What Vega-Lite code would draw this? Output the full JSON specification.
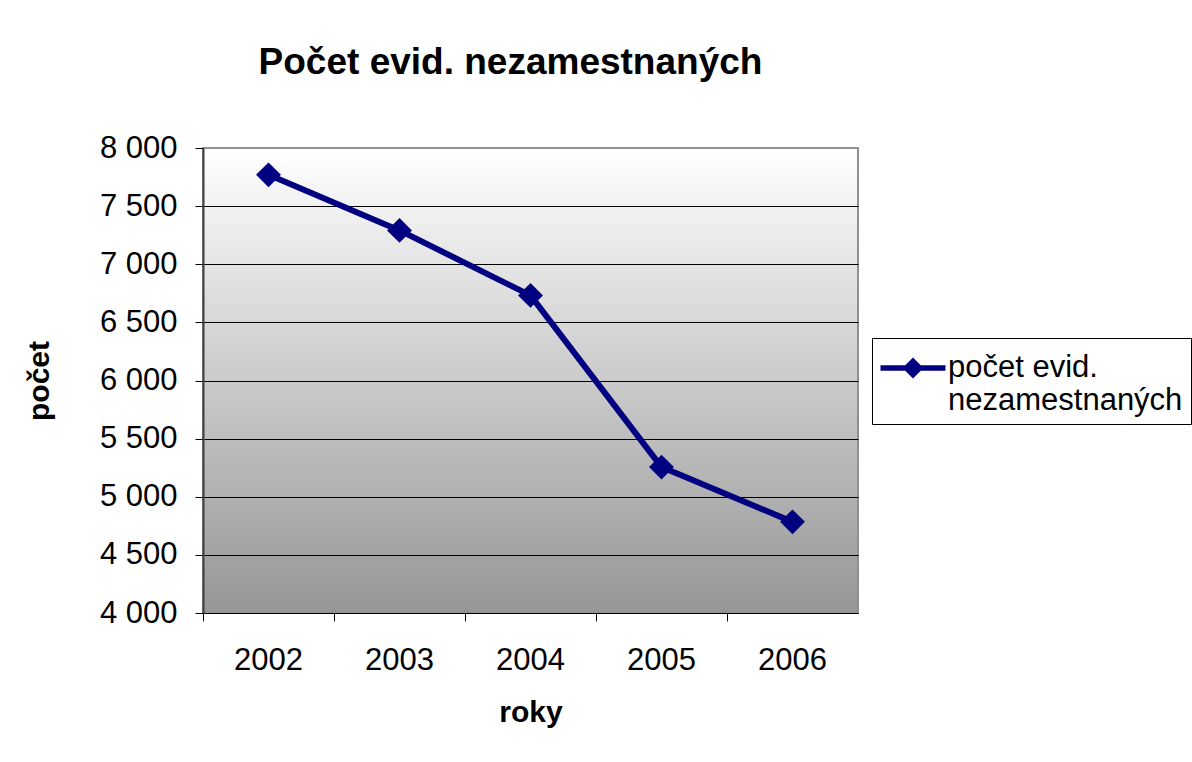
{
  "$schema": "https://vega.github.io/schema/vega-lite/v6.json",
  "width": 655,
  "height": 465,
  "autosize": {"type": "none"},
  "padding": {"left": 203, "top": 148, "right": 334, "bottom": 149},
  "background": "white",
  "title": {
    "text": "Počet evid. nezamestnaných",
    "font": "Liberation Sans",
    "fontSize": 37,
    "fontWeight": "bold",
    "color": "black",
    "anchor": "middle",
    "dx": -20,
    "offset": 50
  },
  "data": {
    "values": [
      {"year": "2002", "value": 7769, "series": "počet evid. nezamestnaných"},
      {"year": "2003", "value": 7291, "series": "počet evid. nezamestnaných"},
      {"year": "2004", "value": 6732, "series": "počet evid. nezamestnaných"},
      {"year": "2005", "value": 5255, "series": "počet evid. nezamestnaných"},
      {"year": "2006", "value": 4784, "series": "počet evid. nezamestnaných"}
    ]
  },
  "encoding": {
    "x": {
      "field": "year",
      "type": "ordinal",
      "scale": {"type": "band", "paddingInner": 0, "paddingOuter": 0},
      "axis": {
        "title": "roky",
        "bandPosition": 0,
        "labelAngle": 0,
        "tickSize": 8,
        "tickColor": "black",
        "domainColor": "black",
        "domainWidth": 1,
        "labelPadding": 24,
        "labelFontSize": 31,
        "labelFont": "Liberation Sans",
        "labelColor": "black",
        "titleFont": "Liberation Sans",
        "titleFontSize": 30,
        "titleFontWeight": "bold",
        "titleColor": "black",
        "titlePadding": 22,
        "grid": false
      }
    },
    "y": {
      "field": "value",
      "type": "quantitative",
      "scale": {"domain": [4000, 8000], "nice": false, "zero": false},
      "axis": {
        "title": "počet",
        "values": [4000, 4500, 5000, 5500, 6000, 6500, 7000, 7500, 8000],
        "labelExpr": "replace(format(datum.value, ','), ',', ' ')",
        "tickSize": 8,
        "tickColor": "black",
        "domainColor": "#404040",
        "domainWidth": 2,
        "labelPadding": 18,
        "labelFontSize": 31,
        "labelFont": "Liberation Sans",
        "labelColor": "black",
        "titleFont": "Liberation Sans",
        "titleFontSize": 30,
        "titleFontWeight": "bold",
        "titleColor": "black",
        "titlePadding": 45,
        "grid": true,
        "gridColor": {"condition": {"test": "datum.value == 8000", "value": "#909090"}, "value": "black"},
        "gridWidth": 1,
        "gridOpacity": 1
      }
    }
  },
  "layer": [
    {
      "mark": {"type": "line", "strokeWidth": 6, "strokeJoin": "round"},
      "encoding": {
        "color": {
          "field": "series",
          "type": "nominal",
          "scale": {"range": ["#000080"]},
          "legend": {
            "title": null,
            "orient": "none",
            "legendX": 669,
            "legendY": 190,
            "strokeColor": "black",
            "fillColor": "white",
            "padding": 8,
            "symbolType": "M-1.5,-0.127L-0.358,-0.127L0,-0.485L0.358,-0.127L1.5,-0.127L1.5,0.127L0.358,0.127L0,0.485L-0.358,0.127L-1.5,0.127Z",
            "symbolSize": 1877,
            "symbolOffset": 11,
            "labelFont": "Liberation Sans",
            "labelFontSize": 31,
            "labelColor": "black",
            "labelLimit": 500,
            "labelOffset": 13,
            "labelExpr": "['počet evid.', 'nezamestnaných']",
            "encode": {
              "symbols": {"update": {"fill": {"value": "#000080"}, "stroke": {"value": "#000080"}, "strokeWidth": {"value": 0}, "opacity": {"value": 1}}}
            }
          }
        }
      }
    },
    {
      "mark": {"type": "point", "shape": "diamond", "filled": true, "size": 620, "color": "#000080", "opacity": 1}
    }
  ],
  "config": {
    "view": {
      "stroke": "#909090",
      "strokeWidth": 2,
      "fill": {
        "gradient": "linear",
        "x1": 0, "y1": 0, "x2": 0, "y2": 1,
        "stops": [
          {"offset": 0, "color": "#ffffff"},
          {"offset": 1, "color": "#969696"}
        ]
      }
    }
  }
}
